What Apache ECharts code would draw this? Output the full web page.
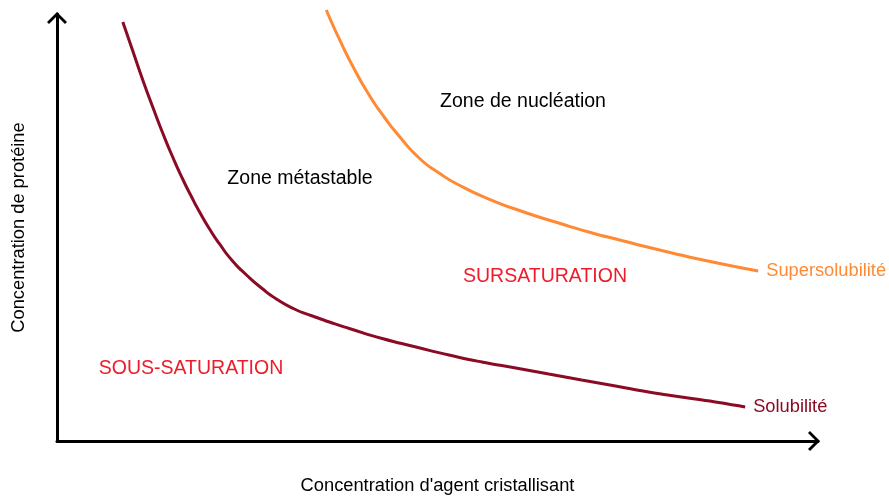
<!DOCTYPE html>
<html>
<head>
<meta charset="utf-8">
<script src="https://cdn.jsdelivr.net/npm/echarts@6/dist/echarts.min.js"></script>
<style>
  html, body { margin: 0; padding: 0; background: #fff; }
  #chart { width: 889px; height: 498px; }
</style>
</head>
<body>
<div id="chart"></div>
<script>
// courbe de solubilité (x = agent cristallisant, y = protéine), échelle 0-100
const solubiliteX = [8.65, 9.96, 11.27, 12.58, 13.89, 15.2, 16.51, 17.69, 18.74, 20.05, 21.36, 23.07, 24.9, 26.87, 28.83, 31.19, 33.55, 36.17, 38.4, 42.73, 47.18, 51.51, 55.83, 60.29, 64.61, 68.94, 73.39, 77.72, 82.04, 86.5, 90.43];
const solubiliteY = [98.13, 91.33, 84.54, 78.22, 72.13, 66.51, 61.36, 57.14, 53.63, 49.65, 46.14, 42.15, 38.88, 35.83, 33.26, 30.91, 29.27, 27.63, 26.35, 24.0, 22.01, 20.14, 18.5, 17.1, 15.69, 14.29, 12.88, 11.48, 10.3, 9.13, 7.96];

// courbe de supersolubilité
const superX = [35.39, 37.09, 39.06, 41.02, 42.99, 44.95, 47.58, 50.2, 52.82, 56.75, 61.34, 65.92, 69.86, 74.44, 78.64, 84.27, 92.14];
const superY = [100.94, 94.15, 87.12, 81.03, 75.88, 71.43, 66.28, 62.76, 59.95, 56.67, 53.63, 51.05, 48.95, 46.84, 44.96, 42.62, 39.81];

const seriesNames = ['Solubilité', 'Supersolubilité'];
const axisNames = ["Concentration d'agent cristallisant", 'Concentration de protéine'];

const font = 'Liberation Sans, Arial, sans-serif';
const arrow = 'path://M10,0 L20,10 L18,12 L10,4 L2,12 L0,10 Z';

function axisStyle() {
  return {
    show: true,
    symbol: ['none', arrow],
    symbolSize: [20, 12],
    symbolOffset: [0, -4],
    lineStyle: { color: '#000', width: 3 }
  };
}

function zoneText(x, y, text, color) {
  return {
    type: 'text', x: x, y: y,
    style: { text: text, fill: color, font: '19.5px ' + font, align: 'center', verticalAlign: 'middle' }
  };
}

const chart = echarts.init(document.getElementById('chart'));

chart.setOption({
  animation: false,
  textStyle: { fontFamily: font },
  grid: { left: 57, right: 71, top: 14, bottom: 57, outerBoundsMode: 'none', containLabel: false },
  xAxis: {
    type: 'value',
    min: 0,
    max: 100,
    name: axisNames[0],
    nameLocation: 'middle',
    nameGap: 36,
    nameTextStyle: { color: '#000', fontSize: 18.3, fontFamily: font },
    axisLine: axisStyle(),
    axisTick: { show: false },
    axisLabel: { show: false },
    splitLine: { show: false }
  },
  yAxis: {
    type: 'value',
    min: 0,
    max: 100,
    name: axisNames[1],
    nameLocation: 'middle',
    nameRotate: 90,
    nameGap: 29,
    nameTextStyle: { color: '#000', fontSize: 18.3, fontFamily: font },
    axisLine: axisStyle(),
    axisTick: { show: false },
    axisLabel: { show: false },
    splitLine: { show: false }
  },
  series: [
    {
      name: seriesNames[0],
      type: 'line',
      smooth: 0.6,
      showSymbol: false,
      clip: false,
      lineStyle: { color: '#8b0a24', width: 3 },
      data: solubiliteX.map((x, i) => [x, solubiliteY[i]]),
      endLabel: {
        show: true,
        formatter: '{a}',
        color: '#8b0a24',
        fontSize: 18.3,
        fontFamily: font,
        distance: 8
      }
    },
    {
      name: seriesNames[1],
      type: 'line',
      smooth: 0.6,
      showSymbol: false,
      clip: false,
      lineStyle: { color: '#ff8a33', width: 3 },
      data: superX.map((x, i) => [x, superY[i]]),
      endLabel: {
        show: true,
        formatter: '{a}',
        color: '#ff8a33',
        fontSize: 18.3,
        fontFamily: font,
        distance: 8
      }
    }
  ],
  // noms des zones
  graphic: [
    zoneText(523, 102, 'Zone de nucléation', '#000'),
    zoneText(300, 179, 'Zone métastable', '#000'),
    zoneText(545, 277, 'SURSATURATION', '#ee1c2b'),
    zoneText(191, 369, 'SOUS-SATURATION', '#ee1c2b')
  ]
});
</script>
</body>
</html>
